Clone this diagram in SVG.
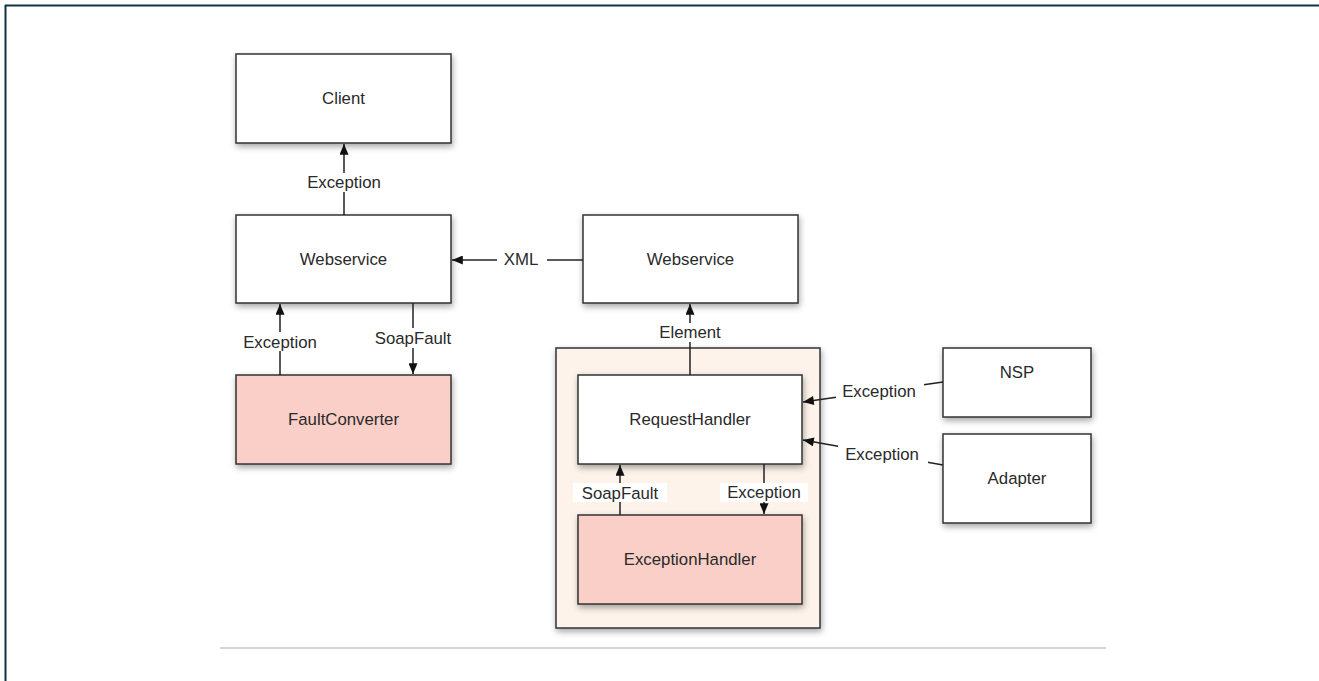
<svg xmlns="http://www.w3.org/2000/svg" width="1319" height="681" viewBox="0 0 1319 681">
<style>
  .box { fill: #ffffff; stroke: #333333; stroke-width: 1.5; filter: url(#sh); }
  .pink { fill: #f9cfc7; }
  .cont { fill: #fdf3ea; stroke: #333333; stroke-width: 1.5; filter: url(#sh); }
  .t { font-family: "Liberation Sans", Arial, sans-serif; font-size: 16.8px; fill: #2a2a2a; text-anchor: middle; dominant-baseline: central; }
  .ln { stroke: #222222; stroke-width: 1.5; fill: none; }
  .arr { marker-end: url(#ah); }
  .lbg { fill: #ffffff; }
</style>
<defs>
  <filter id="sh" x="-10%" y="-10%" width="125%" height="130%">
    <feDropShadow dx="1" dy="3" stdDeviation="3" flood-color="#000000" flood-opacity="0.35"/>
  </filter>
  <marker id="ah" viewBox="0 0 12 10" refX="12" refY="5" markerWidth="12" markerHeight="9" markerUnits="userSpaceOnUse" orient="auto">
    <path d="M0,0 L12,5 L0,10 Z" fill="#111111"/>
  </marker>
</defs>
<rect x="0" y="0" width="1319" height="681" fill="#ffffff"/>
<g id="frame">
  <line x1="5" y1="5.5" x2="1319" y2="5.5" stroke="#0f3543" stroke-width="2"/>
  <line x1="5.5" y1="5" x2="5.5" y2="681" stroke="#0f3543" stroke-width="2"/>
  <line x1="220" y1="648" x2="1106" y2="648" stroke="#c8c8c8" stroke-width="1.5"/>
</g>

<g id="container">
  <rect class="cont" x="556" y="348" width="264" height="280"/>
</g>

<g id="client">
  <rect class="box" x="236" y="54" width="215" height="89"/>
  <text class="t" x="343.5" y="98.5">Client</text>
</g>
<g id="webservice-left">
  <rect class="box" x="236" y="215" width="215" height="88"/>
  <text class="t" x="343.5" y="259">Webservice</text>
</g>
<g id="webservice-right">
  <rect class="box" x="583" y="215" width="215" height="88"/>
  <text class="t" x="690.5" y="259">Webservice</text>
</g>
<g id="faultconverter">
  <rect class="box pink" x="236" y="375" width="215" height="89"/>
  <text class="t" x="343.5" y="419.5">FaultConverter</text>
</g>
<g id="requesthandler">
  <rect class="box" x="578" y="375" width="224" height="89"/>
  <text class="t" x="690" y="419.5">RequestHandler</text>
</g>
<g id="exceptionhandler">
  <rect class="box pink" x="578" y="515" width="224" height="89"/>
  <text class="t" x="690" y="559.5">ExceptionHandler</text>
</g>
<g id="nsp">
  <rect class="box" x="943" y="348" width="148" height="69"/>
  <text class="t" x="1017" y="372">NSP</text>
</g>
<g id="adapter">
  <rect class="box" x="943" y="434" width="148" height="89"/>
  <text class="t" x="1017" y="478">Adapter</text>
</g>

<g id="connectors">
  <line class="ln arr" x1="344" y1="215" x2="344" y2="144"/>
  <rect class="lbg" x="303" y="173" width="82" height="19"/>
  <text class="t" x="344" y="182">Exception</text>

  <line class="ln arr" x1="583" y1="260" x2="452" y2="260"/>
  <rect class="lbg" x="497" y="250" width="50" height="20"/>
  <text class="t" x="521" y="259">XML</text>

  <line class="ln arr" x1="280" y1="375" x2="280" y2="304"/>
  <rect class="lbg" x="239" y="332" width="82" height="19"/>
  <text class="t" x="280" y="342">Exception</text>

  <line class="ln arr" x1="413" y1="303" x2="413" y2="374"/>
  <rect class="lbg" x="372" y="328" width="82" height="20"/>
  <text class="t" x="413" y="338">SoapFault</text>

  <line class="ln arr" x1="690" y1="375" x2="690" y2="304"/>
  <rect class="lbg" x="657" y="323" width="66" height="19"/>
  <text class="t" x="690" y="332">Element</text>

  <line class="ln arr" x1="620" y1="515" x2="620" y2="465"/>
  <rect class="lbg" x="573" y="483" width="94" height="19"/>
  <text class="t" x="620" y="493">SoapFault</text>

  <line class="ln arr" x1="764" y1="464" x2="764" y2="514"/>
  <rect class="lbg" x="720" y="483" width="88" height="19"/>
  <text class="t" x="764" y="492">Exception</text>

  <line class="ln arr" x1="943" y1="382" x2="803" y2="402"/>
  <rect class="lbg" x="836" y="380" width="88" height="22"/>
  <text class="t" x="879" y="391">Exception</text>

  <line class="ln arr" x1="943" y1="465" x2="803" y2="440"/>
  <rect class="lbg" x="838" y="443" width="90" height="22"/>
  <text class="t" x="882" y="454">Exception</text>
</g>
</svg>
